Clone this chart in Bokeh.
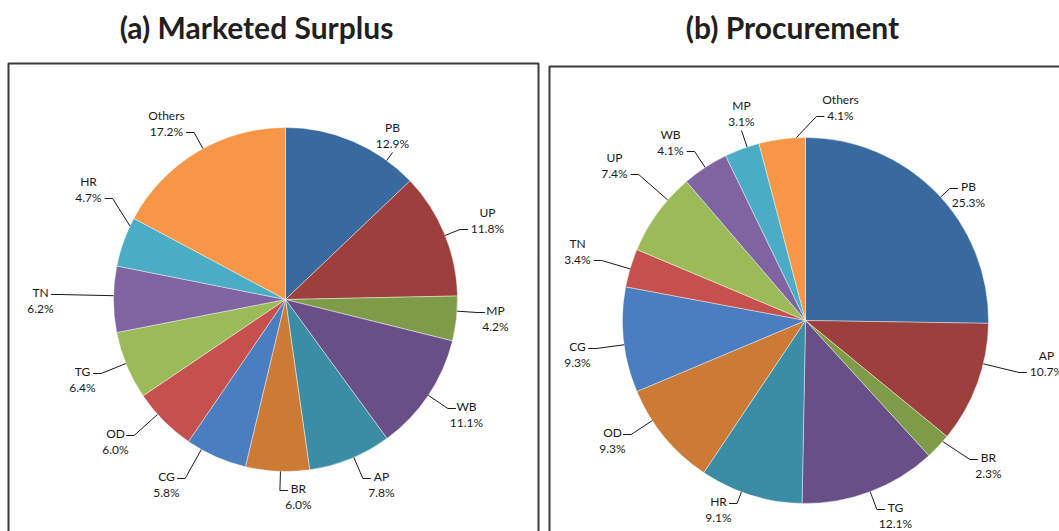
import math
from bokeh.plotting import figure
from bokeh.models import Range1d, ColumnDataSource
from bokeh.embed import file_html
from bokeh.resources import INLINE
from bokeh.core.properties import value

W, H = 1059, 531

# ---- data ----
ms_states = ["PB", "UP", "MP", "WB", "AP", "BR", "CG", "OD", "TG", "TN", "HR", "Others"]
ms_share = [12.9, 11.8, 4.2, 11.1, 7.8, 6.0, 5.8, 6.0, 6.4, 6.2, 4.7, 17.2]
pr_states = ["PB", "AP", "BR", "TG", "HR", "OD", "CG", "TN", "UP", "WB", "MP", "Others"]
pr_share = [25.3, 10.7, 2.3, 12.1, 9.1, 9.3, 9.3, 3.4, 7.4, 4.1, 3.1, 4.1]
titles = ["(a) Marketed Surplus", "(b) Procurement"]

palette = ["#386A9F", "#9C3F3D", "#7E9B48", "#684F87", "#3A8DA5", "#CC7B36",
           "#4A7EC0", "#C5504D", "#9BBB59", "#8064A2", "#4BACC6", "#F79646"]

# ---- layout (pixel positions of label name rows and leader attach modes) ----
ms_layout = {
    "PB": (392, 127, "B"), "UP": (487, 212, "LP"), "MP": (495, 310, "L"),
    "WB": (466, 406, "L"), "AP": (381, 476, "L"), "BR": (298, 488, "L"),
    "CG": (166, 476, "R"), "OD": (115, 433, "R"), "TG": (82, 371, "R"),
    "TN": (40, 292, "R"), "HR": (88, 181, "RP"), "Others": (166, 115, "RP"),
}
pr_layout = {
    "PB": (968, 186, "L"), "AP": (1046, 355, "LP"), "BR": (988, 457, "L"),
    "TG": (895, 507, "L"), "HR": (718, 501, "R"), "OD": (612, 432, "R"),
    "CG": (577, 346, "R"), "TN": (577, 243, "RP"), "UP": (614, 157, "RP"),
    "WB": (670, 134, "RP"), "MP": (741, 105, "B"), "Others": (840, 99, "LP"),
}

panels = [
    dict(states=ms_states, share=ms_share, layout=ms_layout, cx=285, cy=299, r=172,
         title=titles[0], tx=256, box=(8, 63, 538)),
    dict(states=pr_states, share=pr_share, layout=pr_layout, cx=805, cy=320, r=183,
         title=titles[1], tx=792, box=(549, 66, 1075)),
]

FONT = "Lato"
LINE_GAP = 16


def Y(py):
    return H - py


def tw(s):
    w = 0.0
    for ch in s:
        if ch.isdigit():
            w += 6.9
        elif ch == ".":
            w += 3.0
        elif ch == "%":
            w += 9.5
        elif ch.isupper():
            w += 7.6
        else:
            w += 6.0
    return w


p = figure(width=W, height=H, x_range=Range1d(0, W), y_range=Range1d(0, H),
           output_backend="svg", toolbar_location=None, x_axis_type=None,
           y_axis_type=None, min_border=0)
p.outline_line_color = None
p.xgrid.visible = False
p.ygrid.visible = False

for pan in panels:
    cx, cy, r = pan["cx"], pan["cy"], pan["r"]
    tot = sum(pan["share"])
    starts, ends = [], []
    cum = 0.0
    for v in pan["share"]:
        a0 = math.pi / 2 - 2 * math.pi * cum / tot
        cum += v
        a1 = math.pi / 2 - 2 * math.pi * cum / tot
        starts.append(a0)
        ends.append(a1)
    src = ColumnDataSource(dict(x=[cx] * len(starts), y=[Y(cy)] * len(starts),
                                start=starts, end=ends, color=palette[:len(starts)]))
    p.wedge(x="x", y="y", radius=r, start_angle="start", end_angle="end",
            direction="clock", fill_color="color", line_color="white",
            line_width=0.6, line_alpha=0.7, source=src)

    lx, ly, lt = [], [], []
    xs, ys = [], []
    for i, (st, v) in enumerate(zip(pan["states"], pan["share"])):
        nx, ny, mode = pan["layout"][st]
        pct = f"{v:.1f}%"
        px, py = nx, ny + LINE_GAP
        lx += [nx, px]
        ly += [Y(ny), Y(py)]
        lt += [st, pct]
        if mode == "L":
            ex, ey = nx - tw(st) / 2 - 3, ny + 2
            elx, ely = ex - 8, ey
        elif mode == "R":
            ex, ey = nx + tw(st) / 2 + 3, ny + 2
            elx, ely = ex + 8, ey
        elif mode == "LP":
            ex, ey = px - tw(pct) / 2 - 3, py + 1
            elx, ely = ex - 8, ey
        elif mode == "RP":
            ex, ey = px + tw(pct) / 2 + 3, py + 1
            elx, ely = ex + 8, ey
        else:  # B
            ex, ey = px, py + 9
            elx, ely = ex, ey
        ang = math.atan2(-(ely - cy), elx - cx)
        a0, a1 = starts[i], ends[i]
        while ang > a0:
            ang -= 2 * math.pi
        while ang <= a0 - 2 * math.pi:
            ang += 2 * math.pi
        m = min(0.05, (a0 - a1) / 4)
        ang = max(min(ang, a0 - m), a1 + m)
        ax, ay = cx + r * math.cos(ang), cy - r * math.sin(ang)
        xs.append([ax, elx, ex])
        ys.append([Y(ay), Y(ely), Y(ey)])
    p.multi_line(xs=xs, ys=ys, line_color="#1a1a1a", line_width=1)
    p.text(x=lx, y=ly, text=lt, text_font=value(FONT), text_font_size="12px",
           text_align="center", text_baseline="middle", text_color="#1a1a1a")

    bl, bt, br = pan["box"]
    p.quad(left=[bl], right=[br], top=[Y(bt)], bottom=[-10], fill_color=None,
           line_color="#3a3a3a", line_width=2)
    p.text(x=[pan["tx"]], y=[Y(26)], text=[pan["title"]], text_font=value(FONT),
           text_font_size="30px", text_font_style="bold", text_align="center",
           text_baseline="middle", text_color="#231f20")

open("out.html", "w").write(file_html(p, INLINE))
